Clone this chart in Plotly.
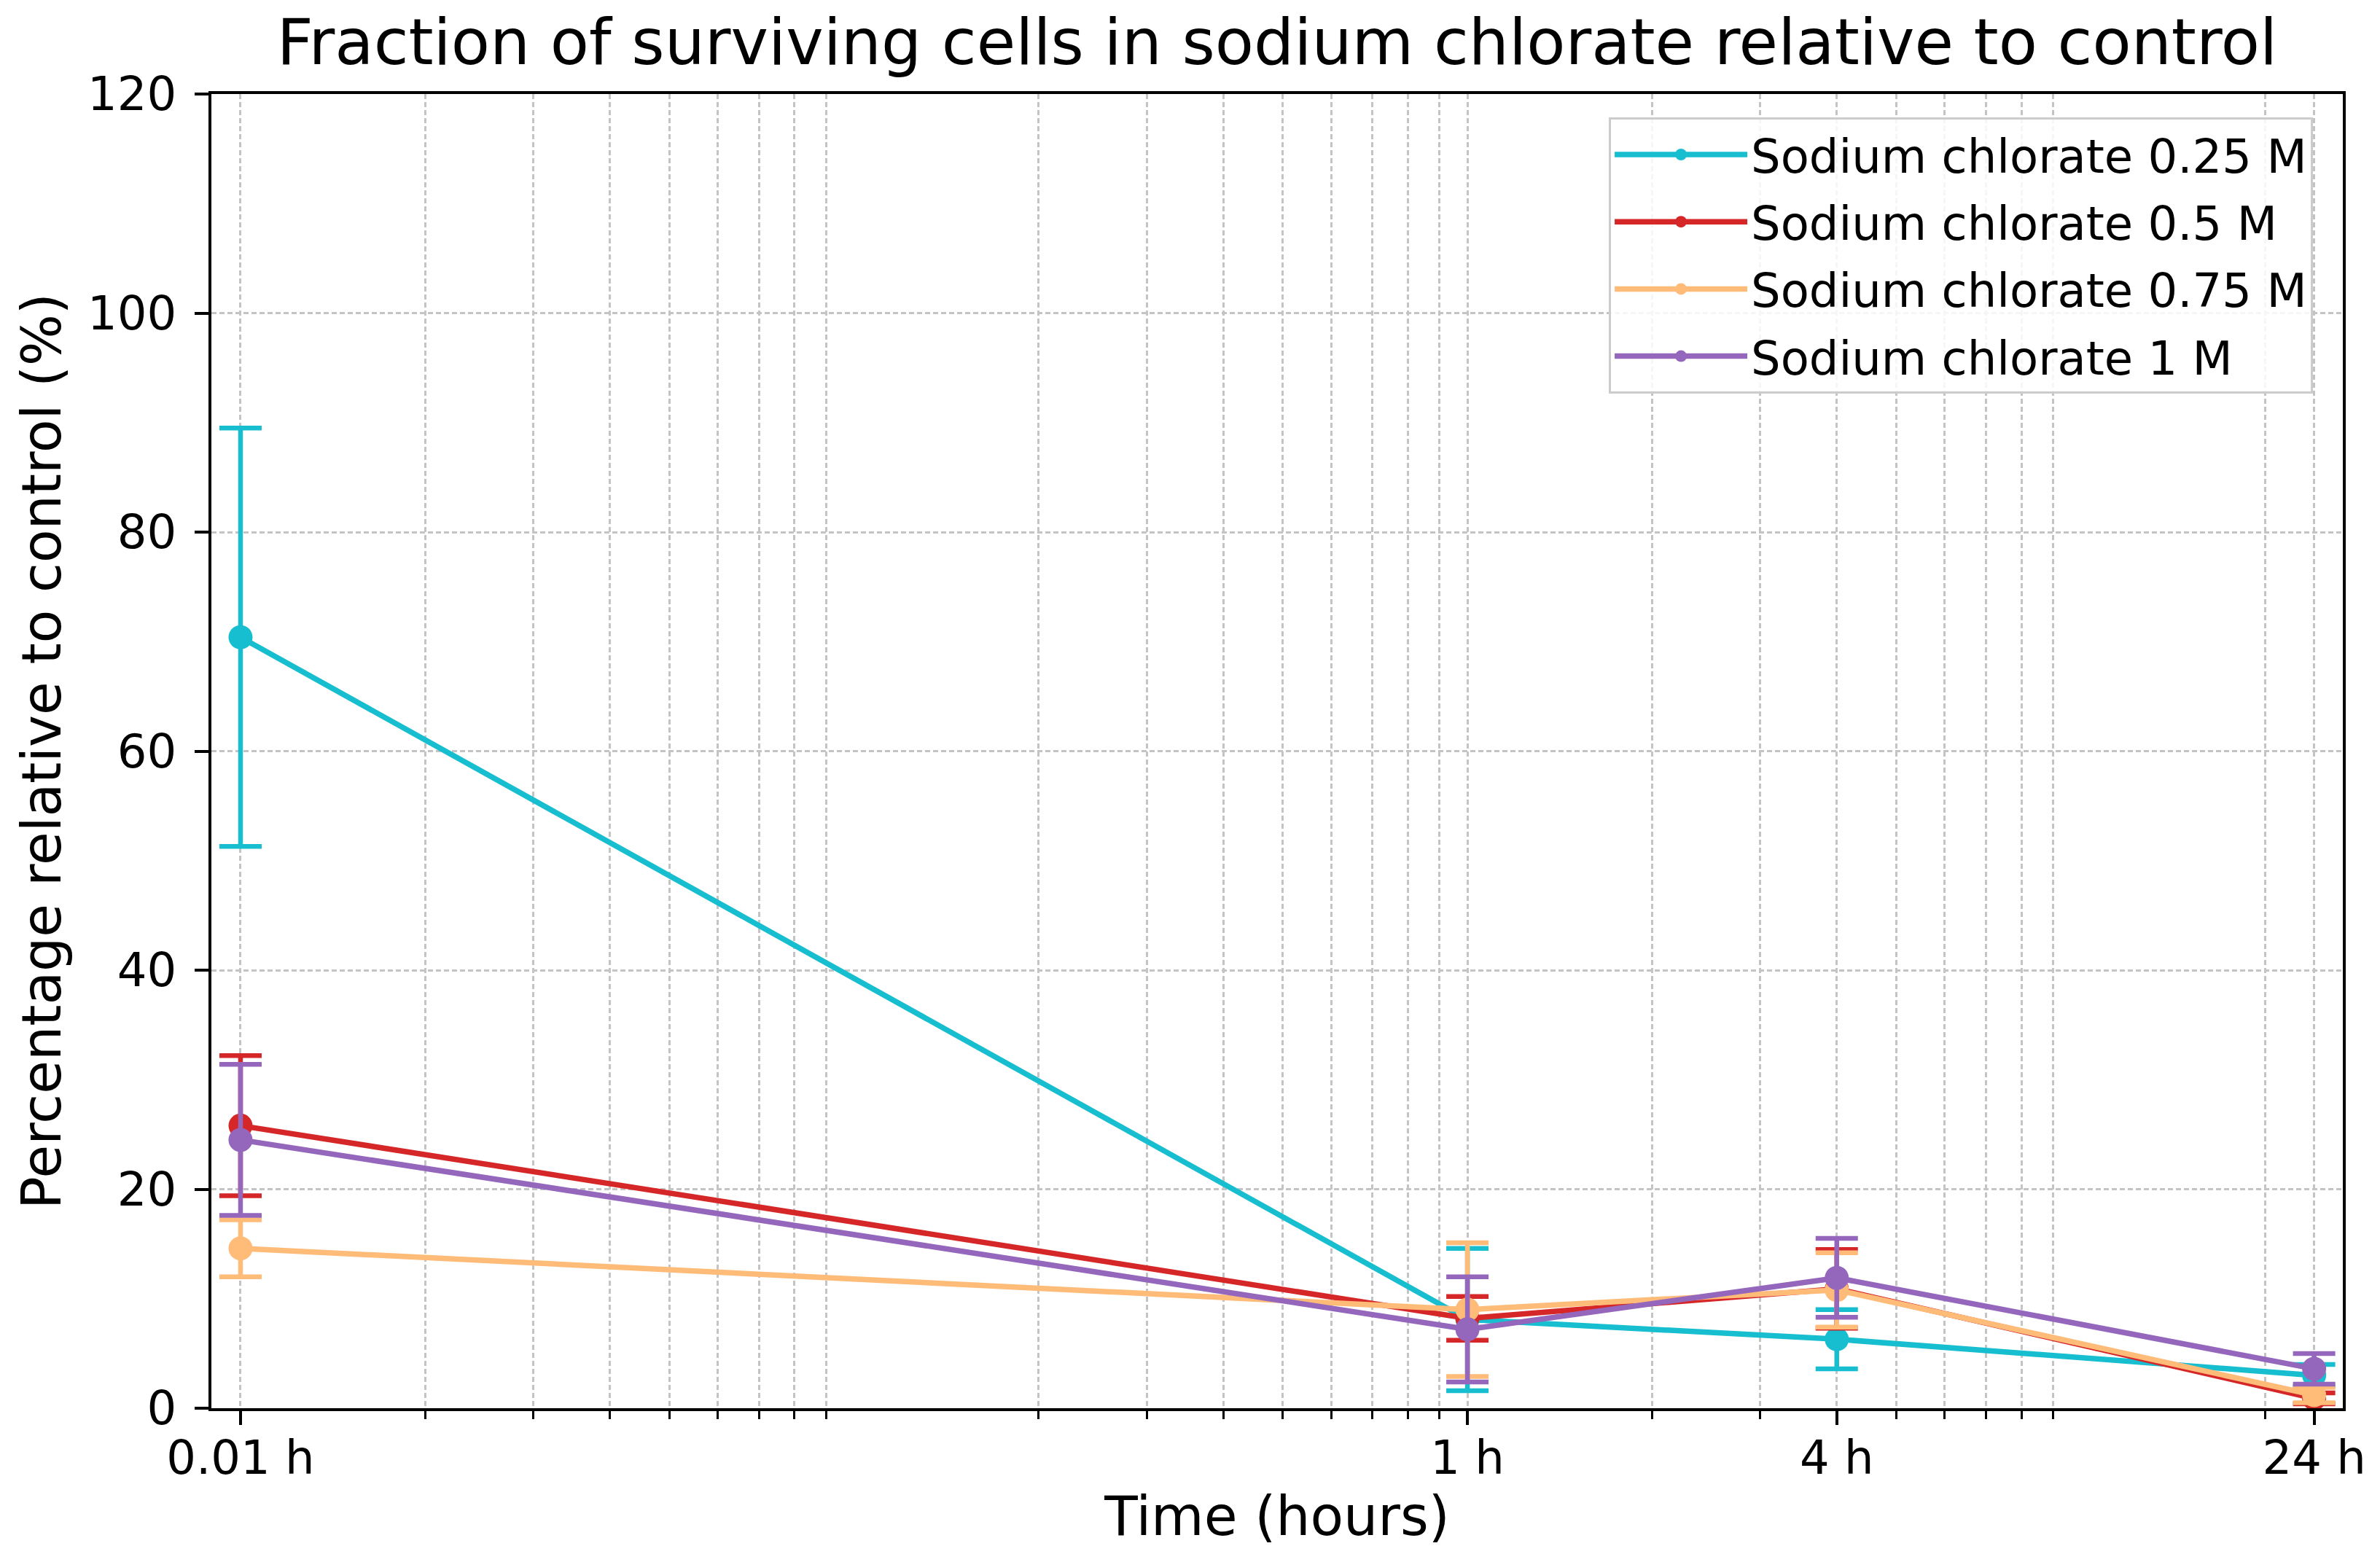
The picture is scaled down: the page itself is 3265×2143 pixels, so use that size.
import plotly.graph_objects as go

# ---- data ----
time_hours = [0.01, 1, 4, 24]
tick_labels = ["0.01 h", "1 h", "4 h", "24 h"]

series_names = ["Sodium chlorate 0.25 M", "Sodium chlorate 0.5 M",
                "Sodium chlorate 0.75 M", "Sodium chlorate 1 M"]
series_colors = ["#17becf", "#d62728", "#ffbb78", "#9467bd"]

mean_025 = [70.4, 8.1, 6.3, 3.0]
err_025 = [19.1, 6.5, 2.7, 1.0]
mean_05 = [25.8, 8.2, 10.9, 0.9]
err_05 = [6.4, 2.0, 3.6, 0.5]
mean_075 = [14.6, 9.0, 10.8, 1.2]
err_075 = [2.6, 6.1, 3.4, 0.7]
mean_1 = [24.5, 7.2, 11.9, 3.6]
err_1 = [6.9, 4.8, 3.6, 1.4]

means = [mean_025, mean_05, mean_075, mean_1]
errs = [err_025, err_05, err_075, err_1]

FONT = "DejaVu Sans"
GRID = "#c4c4c4"

# page body has an 8px margin: shrink the figure so it fits the window
W, H = 3257, 2135
ML, MT, MR, MB = 282, 121, 51, 211

fig = go.Figure()
for i, (name, col, m, e) in enumerate(zip(series_names, series_colors, means, errs)):
    fig.add_trace(go.Scatter(
        x=time_hours, y=m, name=name, mode="lines+markers",
        legendgroup=f"g{i}",
        line=dict(color=col, width=7.5),
        marker=dict(color=col, size=33),
        error_y=dict(type="data", array=e, visible=True, color=col,
                     thickness=6.5, width=29),
    ))

minor_vals = [k * 10.0 ** p for p in (-2, -1, 0, 1) for k in range(2, 10)]
minor_vals = [v for v in minor_vals if v <= 26]

fig.update_layout(
    width=W, height=H,
    paper_bgcolor="white", plot_bgcolor="white",
    margin=dict(l=ML, r=MR, t=MT, b=MB),
    font=dict(family=FONT, size=64, color="black"),
    title=dict(text="Fraction of surviving cells in sodium chlorate relative to control",
               x=(ML + (W - MR)) / 2 / W, xanchor="center",
               y=1 - 50 / H, yanchor="middle",
               font=dict(family=FONT, size=87, color="black")),
    legend=dict(x=0.986, y=0.9823, xanchor="right", yanchor="top",
                bgcolor="rgba(255,255,255,0.85)", bordercolor="#cccccc",
                borderwidth=3, font=dict(family=FONT, size=64, color="black"),
                itemwidth=182, traceorder="grouped", tracegroupgap=6),
    showlegend=True,
)

fig.update_xaxes(
    type="log", range=[-2.0475, 1.427], automargin=False,
    tickmode="array", tickvals=time_hours, ticktext=tick_labels,
    ticks="outside", ticklen=19, tickwidth=4, tickcolor="black",
    ticklabelstandoff=-10,
    tickfont=dict(family=FONT, size=64, color="black"),
    showline=True, linewidth=4, linecolor="black", mirror=True,
    showgrid=True, gridcolor=GRID, gridwidth=2.5, griddash="7px,4px",
    zeroline=False,
    minor=dict(tickmode="array", tickvals=minor_vals, ticks="outside",
               ticklen=11, tickwidth=3, tickcolor="black",
               showgrid=True, gridcolor=GRID, gridwidth=2.5, griddash="7px,4px"),
    title=dict(text="Time (hours)", font=dict(family=FONT, size=74.5, color="black"),
               standoff=18),
)

fig.update_yaxes(
    range=[0, 120], tickmode="linear", tick0=0, dtick=20, automargin=False,
    ticks="outside", ticklen=19, tickwidth=4, tickcolor="black",
    ticklabelstandoff=12,
    tickfont=dict(family=FONT, size=64, color="black"),
    showline=True, linewidth=4, linecolor="black", mirror=True,
    showgrid=True, gridcolor=GRID, gridwidth=2.5, griddash="7px,4px",
    zeroline=False,
    title=dict(text="Percentage relative to control (%)",
               font=dict(family=FONT, size=74.5, color="black"), standoff=13),
)

fig.write_html("out.html")
